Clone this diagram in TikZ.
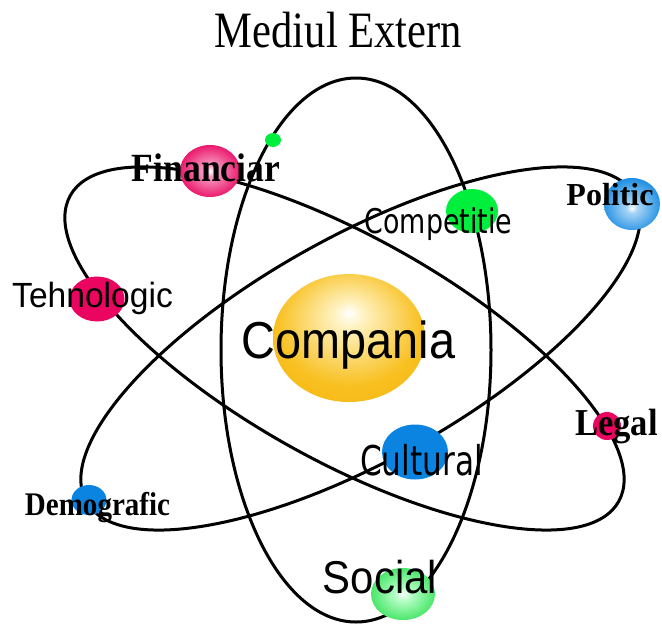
\documentclass[tikz,border=0pt]{standalone}
\usepackage{fontspec}
\setmainfont{Liberation Serif}
\newfontfamily\sansf{Liberation Sans}
\newfontfamily\comicf{DejaVu Sans}
\usetikzlibrary{shapes.geometric}
\definecolor{pinkC}{HTML}{EA0560}
\definecolor{pinkL}{HTML}{F6A0C4}
\definecolor{greenC}{HTML}{00EE3C}
\definecolor{greenL}{HTML}{B8FFC8}
\definecolor{greenS}{HTML}{22DD48}
\definecolor{blueC}{HTML}{0A84E0}
\definecolor{blueL}{HTML}{A8D4F6}
\definecolor{orgA}{HTML}{FFF2C0}
\definecolor{orgB}{HTML}{F8C020}
\definecolor{orgC}{HTML}{F0AA00}
\pgfdeclareradialshading{pinkball}{\pgfpoint{0bp}{0bp}}{color(0bp)=(white); color(5bp)=(pinkL); color(28bp)=(pinkC); color(50bp)=(pinkC)}
\pgfdeclareradialshading{blueball}{\pgfpoint{0bp}{-4bp}}{color(0bp)=(white); color(5bp)=(blueL); color(30bp)=(blueC); color(50bp)=(blueC)}
\pgfdeclareradialshading{greenball}{\pgfpoint{0bp}{0bp}}{color(0bp)=(white); color(6bp)=(greenL); color(32bp)=(greenS); color(50bp)=(greenS)}
\pgfdeclareradialshading{orangeball}{\pgfpoint{0bp}{10bp}}{color(0bp)=(white); color(5bp)=(orgA); color(24bp)=(orgB); color(50bp)=(orgC)}
\begin{document}
\begin{tikzpicture}[x=1pt,y=-1pt,
  orbit/.style={line width=3pt, draw=black},
  bl/.style 2 args={ellipse, inner sep=0pt, minimum width=#1pt, minimum height=#2pt},
  lbl/.style={anchor=base, inner sep=0pt},
  serifb/.style={font=\bfseries\fontsize{#1}{#1}\selectfont},
  sansl/.style={font=\sansf\fontsize{#1}{#1}\selectfont},
  comicl/.style={font=\comicf\fontsize{#1}{#1}\selectfont},
]
\useasboundingbox (0,0) rectangle (662,625);
\fill[white] (0,0) rectangle (662,625);
% orbits
\coordinate (cV) at (356,350);
\coordinate (cA) at (344.5,348.5);
\coordinate (cB) at (360.5,348.5);
\draw[orbit] (cV) ellipse [x radius=135, y radius=272];
\draw[orbit, rotate around={-29.15:(cA)}] (cA) ellipse [x radius=314, y radius=112];
\draw[orbit, rotate around={29.15:(cB)}] (cB) ellipse [x radius=314, y radius=112];
% balls
\node[bl={60}{52}, shade, shading=pinkball] (bFin) at (210,171) {};
\node[bl={16}{14}, fill=greenC] (bDot) at (273,140) {};
\node[bl={52}{44}, fill=greenC] (bComp) at (472,211) {};
\node[bl={56}{52}, shade, shading=blueball] (bPol) at (632,204) {};
\node[bl={55}{45}, fill=pinkC] (bTeh) at (97,299) {};
\node[bl={152}{128}, shade, shading=orangeball] (bCo) at (349,338) {};
\node[bl={66}{55}, fill=blueC] (bCul) at (415,452) {};
\node[bl={28}{28}, fill=pinkC] (bLeg) at (607,426) {};
\node[bl={35}{30}, fill=blueC] (bDem) at (89,500) {};
\node[bl={64}{52}, shade, shading=greenball] (bSoc) at (403,594) {};
% title
\node[lbl, font=\fontsize{51}{51}\selectfont, xscale=0.835] (title) at (338.5,47) {Mediul Extern};
% serif labels
\node[lbl, serifb=40, xscale=0.89] (fin) at (206,181) {Financiar};
\node[lbl, serifb=32] (pol) at (610,205) {Politic};
\node[lbl, serifb=38, xscale=0.91] (leg) at (616.5,435) {Legal};
\node[lbl, serifb=33, xscale=0.88] (dem) at (97.5,515) {Demografic};
% sans labels
\node[lbl, sansl=35, xscale=0.96] (teh) at (92.5,307) {Tehnologic};
\node[lbl, sansl=52, xscale=0.9] (co) at (348.5,358) {Compania};
\node[lbl, sansl=46, xscale=0.91] (soc) at (380,593) {Social};
% informal labels
\node[lbl, comicl=34, xscale=0.79] (comp) at (438.5,233) {Competitie};
\node[lbl, comicl=41, xscale=0.76] (cul) at (421.5,475) {Cultural};
\end{tikzpicture}
\end{document}
